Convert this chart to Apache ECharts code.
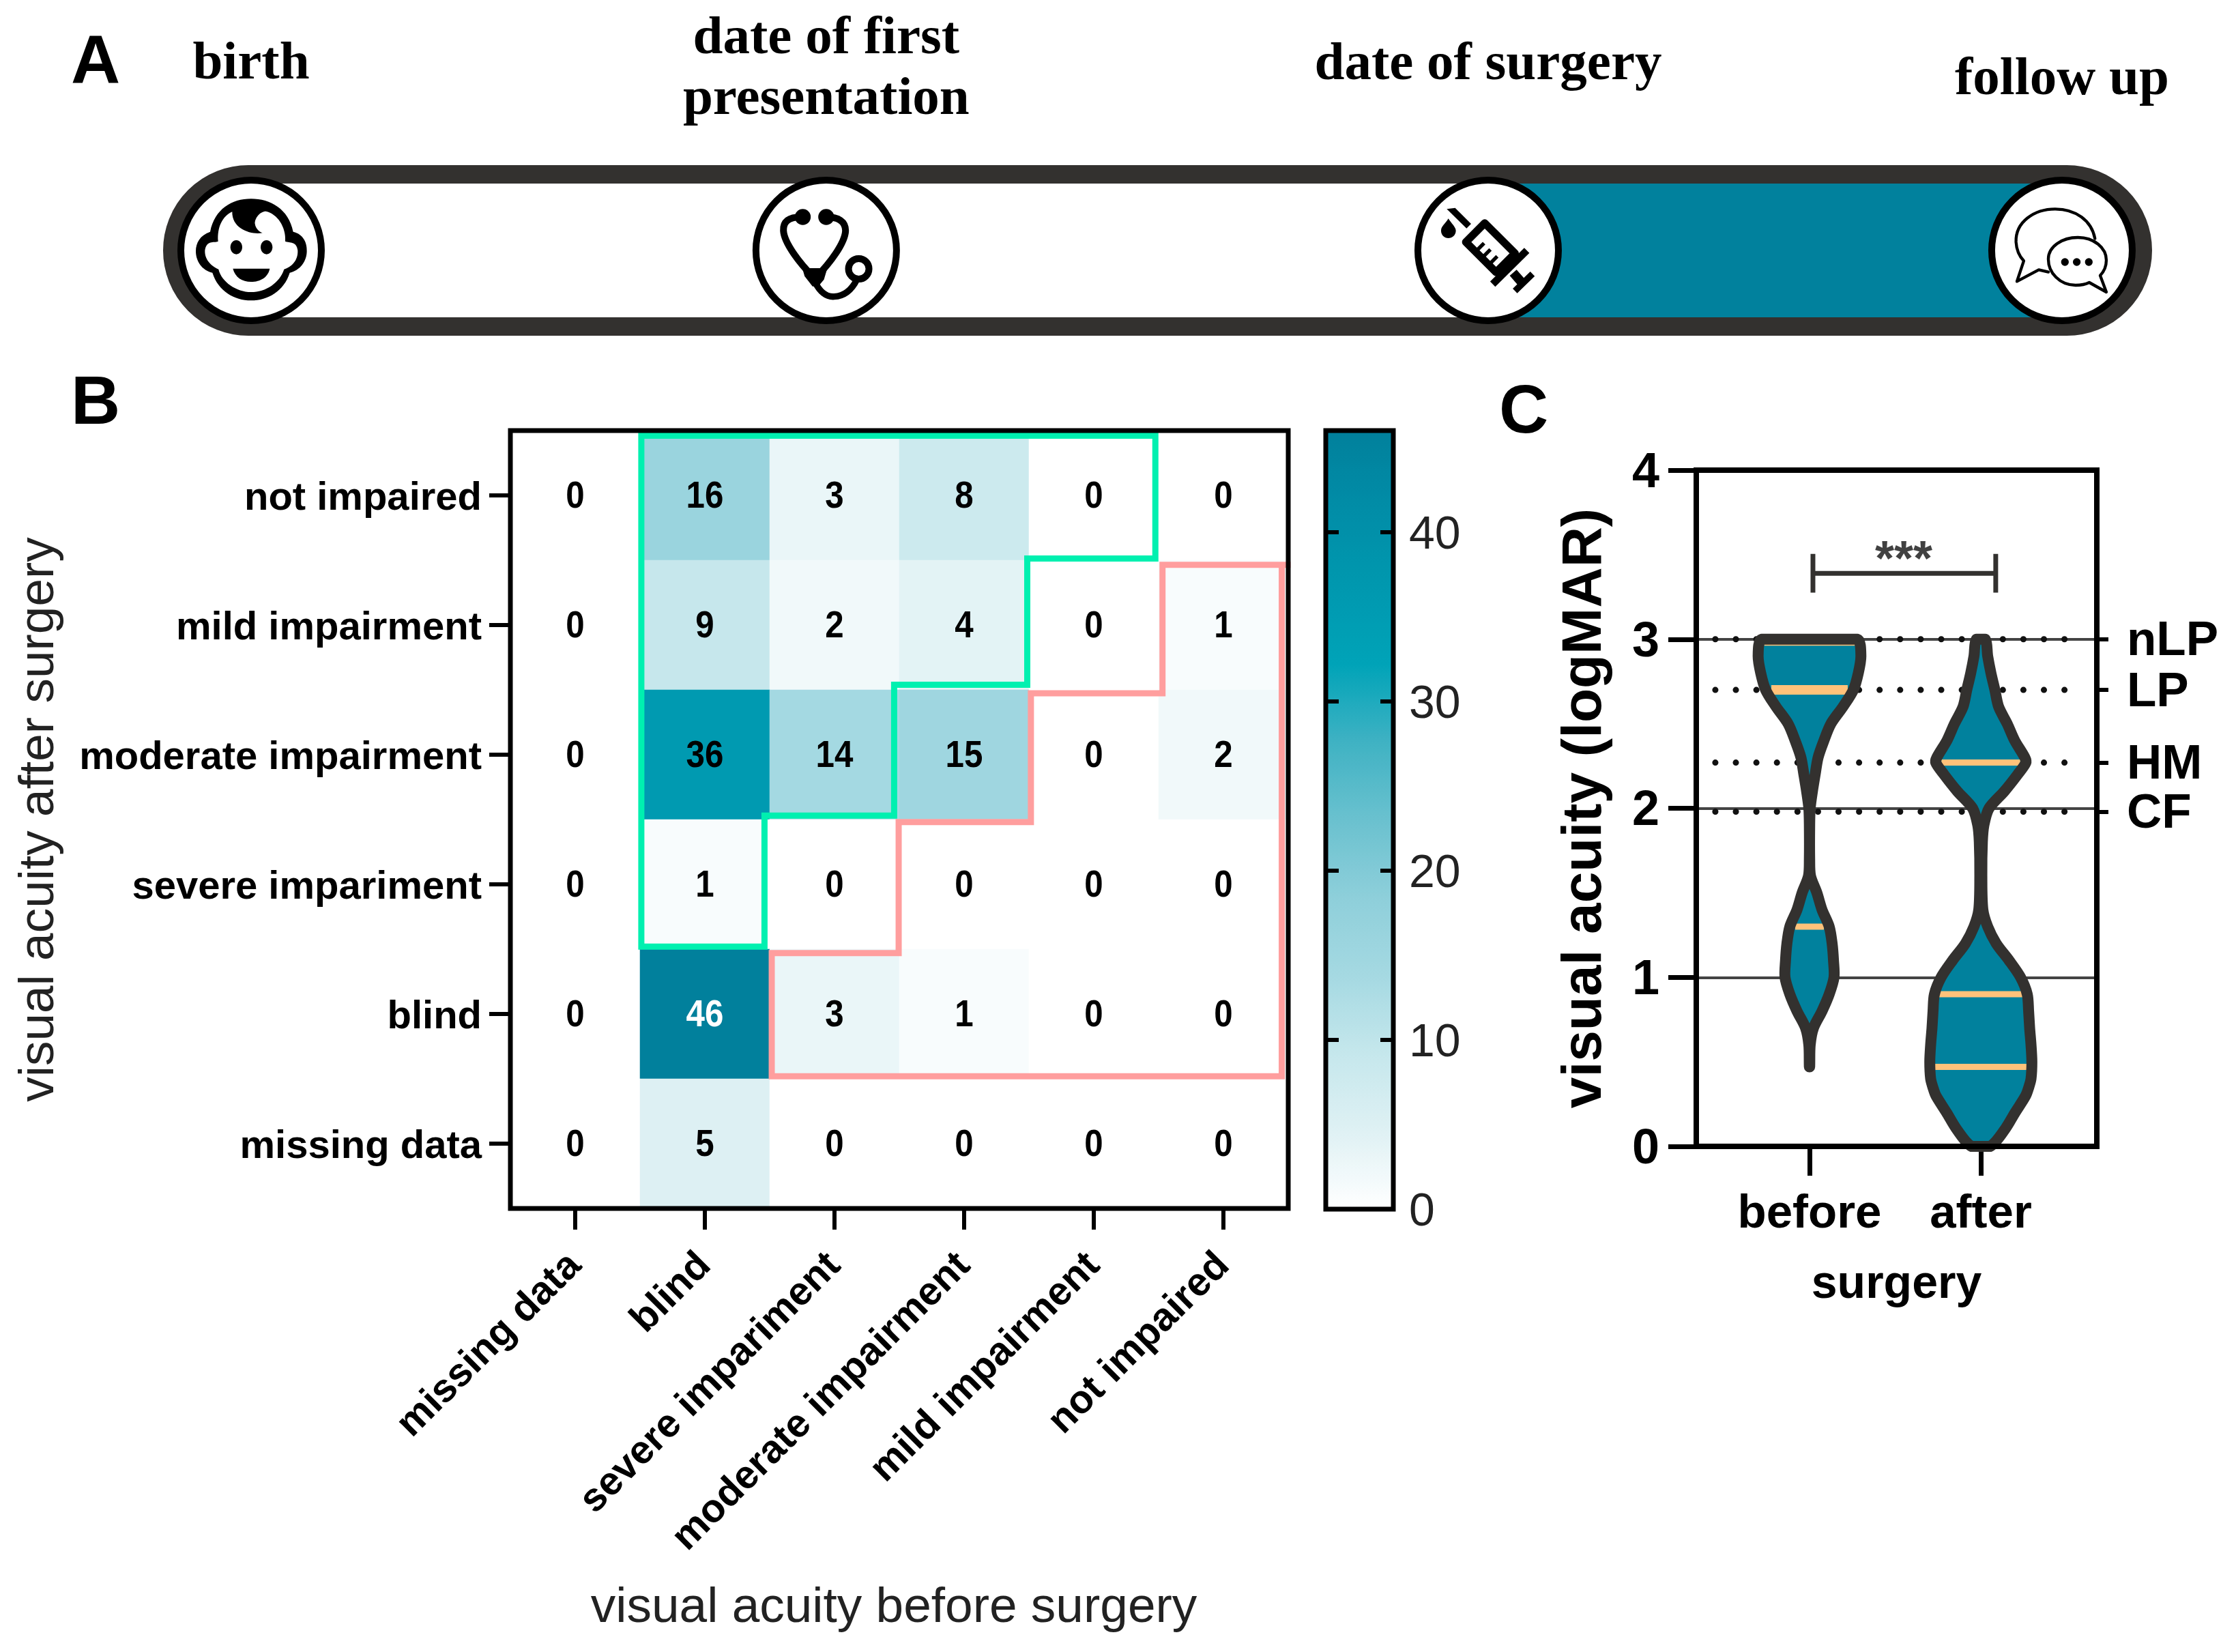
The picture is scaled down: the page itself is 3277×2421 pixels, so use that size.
<!DOCTYPE html>
<html>
<head>
<meta charset="utf-8">
<style>html,body{margin:0;padding:0;background:#fff}#main{width:3277px;height:2421px}</style>
<script src="https://cdn.jsdelivr.net/npm/echarts@6/dist/echarts.min.js"></script>
</head>
<body>
<div id="main"></div>
<script>
// panel A
var eventNames = ['birth', 'date of first\npresentation', 'date of surgery', 'follow up'];
var eventPositions = [4.425, 33.34, 66.62, 95.47];
var eventLabelMiddles = [95, 102, 96, 118];

// panel B
var xCategories = ['missing data', 'blind', 'severe impariment', 'moderate impairment', 'mild impairment', 'not impaired'];
var yCategories = ['not impaired', 'mild impairment', 'moderate impairment', 'severe impariment', 'blind', 'missing data'];
var row0 = [0, 16, 3, 8, 0, 0];
var row1 = [0, 9, 2, 4, 0, 1];
var row2 = [0, 36, 14, 15, 0, 2];
var row3 = [0, 1, 0, 0, 0, 0];
var row4 = [0, 46, 3, 1, 0, 0];
var row5 = [0, 5, 0, 0, 0, 0];
var counts = [row0, row1, row2, row3, row4, row5];
var colorStops = ['#ffffff', '#dff1f4', '#c5e7ec', '#a5d9e2', '#8ecfda', '#6ac1cf', '#3fb2c3', '#00a3b8', '#0098af', '#018da7', '#01809c'];
var greenOutline = [[1.01, 0.04], [4.975, 0.04], [4.975, 0.987], [3.987, 0.987], [3.987, 1.96], [2.96, 1.96], [2.96, 2.97], [1.96, 2.97], [1.96, 3.98], [1.01, 3.98], [1.01, 0.04]];
var pinkOutline = [[5.995, 1.035], [5.03, 1.035], [5.03, 2.026], [4.015, 2.026], [4.015, 3.02], [2.995, 3.02], [2.995, 4.03], [2.016, 4.03], [2.016, 4.98], [5.95, 4.98], [5.95, 1.035]];

// panel C
var groups = ['before', 'after'];
var beforeLevels = [3, 2.9, 2.8, 2.7, 2.6, 2.5, 2.4, 2.3, 2.2, 2.1, 2, 1.9, 1.7, 1.6, 1.5, 1.4, 1.3, 1.2, 1.1, 1, 0.9, 0.8, 0.7, 0.6, 0.47];
var beforeWidths = [0.28, 0.3, 0.285, 0.256, 0.195, 0.125, 0.084, 0.05, 0.033, 0.017, 0.004, 0.001, 0.001, 0.006, 0.043, 0.073, 0.115, 0.132, 0.14, 0.143, 0.115, 0.073, 0.023, 0.004, 0.001];
var afterLevels = [3, 2.9, 2.8, 2.7, 2.6, 2.5, 2.4, 2.3, 2.27, 2.2, 2.1, 2, 1.9, 1.8, 1.6, 1.4, 1.3, 1.2, 1.1, 1, 0.9, 0.8, 0.7, 0.6, 0.5, 0.4, 0.35, 0.3, 0.2, 0.1, 0];
var afterWidths = [0.026, 0.04, 0.059, 0.082, 0.104, 0.154, 0.198, 0.257, 0.263, 0.215, 0.137, 0.048, 0.018, 0.009, 0.006, 0.012, 0.04, 0.09, 0.165, 0.232, 0.271, 0.279, 0.285, 0.293, 0.298, 0.293, 0.28, 0.262, 0.2, 0.14, 0.054];
var beforeQuartiles = [1.3, 2.7, 2.98];
var beforeQuartileWidths = [0.084, 0.223, 0.265];
var afterQuartiles = [0.47, 0.9, 2.27];
var afterQuartileWidths = [0.27, 0.254, 0.23];
var visionLevels = [1.98, 2.27, 2.7, 3];
var visionNames = ['CF', 'HM', 'LP', 'nLP'];
var dotSpan = [-0.55, 1.59];
var bracketX = [0.02, 1.087];
var bracketY = 3.39;
var bracketCap = 0.115;

var TEAL = '#01819d';
var DARK = '#33312f';
var SANS = '"Liberation Sans", Arial, sans-serif';
var SERIF = '"Liberation Serif", "Times New Roman", serif';

var heat = [];
counts.forEach(function (row, r) {
    row.forEach(function (v, c) {
        heat.push([c, r, v]);
    });
});

function outlineSeries(points, color) {
    return {
        type: 'line', xAxisIndex: 1, yAxisIndex: 1, data: points, symbol: 'none', silent: true, z: 5,
        lineStyle: { color: color, width: 9, join: 'miter', cap: 'square' }
    };
}

function renderViolin(params, api) {
    var k = api.value(0);
    var levels = k === 0 ? beforeLevels : afterLevels;
    var widths = k === 0 ? beforeWidths : afterWidths;
    var quarts = k === 0 ? beforeQuartiles : afterQuartiles;
    var qw = k === 0 ? beforeQuartileWidths : afterQuartileWidths;
    var pts = [];
    levels.forEach(function (v, i) { pts.push(api.coord([k - widths[i], v])); });
    for (var i = levels.length - 1; i >= 0; i--) pts.push(api.coord([k + widths[i], levels[i]]));
    var shape = { points: pts, smooth: 0.3, smoothConstraint: [pts[0], pts[0]] };
    var kids = [{ type: 'polygon', shape: shape, style: { fill: TEAL, stroke: null } }];
    quarts.forEach(function (v, i) {
        var a = api.coord([k - qw[i], v]);
        var b = api.coord([k + qw[i], v]);
        kids.push({
            type: 'line', shape: { x1: a[0], y1: a[1], x2: b[0], y2: b[1] },
            style: { stroke: '#ffc27a', lineWidth: v === 2.7 ? 14 : 9 }
        });
    });
    kids.push({ type: 'polygon', shape: shape, style: { fill: null, stroke: DARK, lineWidth: 16, lineJoin: 'round' } });
    return { type: 'group', children: kids };
}

// icon shapes below are in a 720 box (3x), the renderer scales them down
function iconPath(d, style) {
    return { type: 'path', shape: { pathData: 'M0 0M720 720' + d, x: 0, y: 0, width: 720, height: 720, layout: 'cover' }, style: style };
}
var INK = { fill: '#000' };

function babyIcon() {
    return [
        iconPath('M355 125C440 125 520 170 540 270C585 280 602 320 600 355C600 400 570 440 525 450C500 530 430 572 355 572C280 572 210 530 185 450C140 440 112 400 112 355C112 320 130 285 175 270C195 170 270 125 355 125Z', INK),
        iconPath('M272 182C230 200 205 250 210 312C190 320 160 305 152 352C150 400 190 425 212 435C225 490 290 535 355 535C420 535 480 495 500 435C530 425 562 400 560 352C555 310 525 320 505 312C510 250 470 190 420 180C395 180 370 210 372 235C375 255 390 270 405 275C360 285 270 260 272 182Z', { fill: '#fff' }),
        { type: 'ellipse', shape: { cx: 290, cy: 338, rx: 26, ry: 31 }, style: INK },
        { type: 'ellipse', shape: { cx: 423, cy: 338, rx: 26, ry: 31 }, style: INK },
        iconPath('M275 432L437 432C430 470 395 490 355 490C315 490 285 470 275 432Z', INK)
    ];
}

function stethoscopeIcon() {
    var tube = { fill: null, stroke: '#000', lineWidth: 30, lineCap: 'round' };
    return [
        iconPath('M245 205C190 205 165 225 167 265C170 320 240 410 300 470', tube),
        iconPath('M355 205C410 205 440 225 440 265C438 320 370 410 310 470', tube),
        iconPath('M305 490C330 540 360 557 390 555C440 553 470 520 490 480', { fill: null, stroke: '#000', lineWidth: 28, lineCap: 'round' }),
        { type: 'polygon', shape: { points: [[250, 430], [300, 430], [360, 430], [345, 480], [320, 510], [295, 510], [260, 465]] }, style: INK },
        { type: 'circle', shape: { cx: 252, cy: 205, r: 35 }, style: INK },
        { type: 'circle', shape: { cx: 355, cy: 205, r: 35 }, style: INK },
        { type: 'circle', shape: { cx: 498, cy: 433, r: 45 }, style: { fill: '#fff', stroke: '#000', lineWidth: 30 } }
    ];
}

function syringeIcon() {
    function bar(x1, y1, x2, y2, w) {
        return { type: 'line', shape: { x1: x1, y1: y1, x2: x2, y2: y2 }, style: { stroke: '#000', lineWidth: w } };
    }
    return [
        iconPath('M185 212C200 235 218 250 218 265C218 285 202 298 185 298C168 298 153 285 153 265C153 245 172 235 185 212Z', INK),
        { type: 'polygon', shape: { points: [[178, 170], [215, 165], [285, 235], [265, 255]] }, style: INK },
        { type: 'polygon', shape: { points: [[345, 232], [478, 365], [395, 448], [262, 315]] }, style: { fill: '#fff', stroke: '#000', lineWidth: 34, lineJoin: 'round' } },
        bar(530, 352, 380, 500, 32),
        bar(342, 320, 310, 352, 16),
        bar(370, 348, 338, 380, 16),
        bar(400, 378, 368, 410, 16),
        bar(470, 450, 505, 490, 40),
        bar(555, 455, 478, 530, 28)
    ];
}

function chatIcon() {
    var line = { fill: null, stroke: '#000', lineWidth: 13, lineJoin: 'round', lineCap: 'round' };
    return [
        iconPath('M505 300C490 220 420 170 330 170C240 170 155 225 158 315C160 350 170 375 192 398L162 488L258 437L300 447', line),
        iconPath('M300 390C300 335 360 295 430 295C500 295 555 340 555 395C555 425 545 445 528 462L555 535L480 493C460 503 440 505 420 505C350 505 300 450 300 390Z', line),
        { type: 'circle', shape: { cx: 373, cy: 403, r: 17 }, style: INK },
        { type: 'circle', shape: { cx: 425, cy: 403, r: 17 }, style: INK },
        { type: 'circle', shape: { cx: 478, cy: 403, r: 17 }, style: INK }
    ];
}

var iconMakers = [babyIcon, stethoscopeIcon, syringeIcon, chatIcon];
var iconCentres = [[355, 352], [355, 352], [360, 352], [360, 352]];

function renderTube(params, api) {
    var a = api.coord([0, 1]);
    var b = api.coord([100, 0]);
    var s = api.coord([eventPositions[2], 1]);
    var e = api.coord([eventPositions[3], 0]);
    var wall = 27;
    return {
        type: 'group',
        children: [
            { type: 'rect', shape: { x: s[0], y: a[1], width: e[0] - s[0], height: b[1] - a[1] }, style: { fill: TEAL } },
            {
                type: 'rect',
                shape: { x: a[0] + wall / 2, y: a[1] + wall / 2, width: b[0] - a[0] - wall, height: b[1] - a[1] - wall, r: (b[1] - a[1] - wall) / 2 },
                style: { fill: null, stroke: DARK, lineWidth: wall }
            }
        ]
    };
}

function renderEvent(params, api) {
    var i = params.dataIndex;
    var p = api.coord([api.value(0), 0.5]);
    return {
        type: 'group',
        children: [
            {
                type: 'text', x: p[0], y: eventLabelMiddles[i],
                style: { text: eventNames[i], font: 'bold 79px ' + SERIF, fill: '#000', align: 'center', verticalAlign: 'middle', lineHeight: 89 }
            },
            {
                type: 'group', x: p[0], y: p[1],
                children: [
                    { type: 'circle', shape: { cx: 0, cy: 0, r: 103 }, style: { fill: '#fff', stroke: '#000', lineWidth: 10 } },
                    {
                        type: 'group', scaleX: 1 / 3, scaleY: 1 / 3,
                        children: [{ type: 'group', x: -iconCentres[i][0], y: -iconCentres[i][1], children: iconMakers[i]() }]
                    }
                ]
            }
        ]
    };
}

function renderCellText(params, api) {
    var v = api.value(2);
    var p = api.coord([api.value(0), api.value(1)]);
    return {
        type: 'text', x: p[0], y: p[1] + 3, scaleX: 0.88,
        style: { text: String(v), font: 'bold 56px ' + SANS, fill: v > 40 ? '#fff' : '#000', align: 'center', verticalAlign: 'middle' }
    };
}

function frame(x, y, w, h, lw) {
    return { type: 'rect', z: 50, silent: true, shape: { x: x, y: y, width: w, height: h }, style: { fill: null, stroke: '#000', lineWidth: lw } };
}

function panelLetter(t, x, y) {
    return { type: 'text', x: x, y: y, style: { text: t, font: 'bold 100px ' + SANS, fill: '#000' } };
}

var myChart = echarts.init(document.getElementById('main'));
var option = {
    animation: false,
    backgroundColor: '#fff',
    textStyle: { fontFamily: SANS },
    grid: [
        { left: 748, top: 631, width: 1140, height: 1140 },
        { left: 748, top: 631, width: 1140, height: 1140 },
        { left: 1943, top: 631, width: 99, height: 1141 },
        { left: 2486, top: 689, width: 587, height: 991 },
        { left: 239, top: 242, width: 2915, height: 250 }
    ],
    xAxis: [
        {
            type: 'category', gridIndex: 0, data: xCategories, position: 'bottom',
            axisLine: { show: false }, splitLine: { show: false }, splitArea: { show: false },
            axisTick: { show: true, alignWithLabel: true, length: 31, lineStyle: { color: '#000', width: 6 } },
            axisLabel: { rotate: 45, interval: 0, margin: 75, color: '#000', fontWeight: 'bold', fontSize: 58, fontFamily: SANS },
            name: 'visual acuity before surgery', nameLocation: 'middle', nameGap: 549,
            nameTextStyle: { fontSize: 73, color: '#222', fontFamily: SANS, padding: [0, 16, 0, 0] }
        },
        { type: 'value', gridIndex: 1, min: 0, max: 6, show: false },
        { type: 'value', gridIndex: 2, min: 0, max: 1, show: false },
        {
            type: 'value', gridIndex: 3, min: -0.661, max: 1.677,
            axisLine: { show: false, onZero: false }, splitLine: { show: false },
            axisTick: { show: true, customValues: [0, 1], length: 43, lineStyle: { color: '#000', width: 7 } },
            axisLabel: {
                customValues: [0, 1], margin: 65, color: '#000', fontWeight: 'bold', fontSize: 69, fontFamily: SANS,
                formatter: function (v) { return groups[v]; }
            },
            name: 'surgery', nameLocation: 'middle', nameGap: 169,
            nameTextStyle: { fontSize: 68, fontWeight: 'bold', color: '#000', fontFamily: SANS }
        },
        { type: 'value', gridIndex: 4, min: 0, max: 100, show: false }
    ],
    yAxis: [
        {
            type: 'category', gridIndex: 0, data: yCategories, inverse: true,
            axisLine: { show: false }, splitLine: { show: false }, splitArea: { show: false },
            axisTick: { show: true, alignWithLabel: true, length: 31, lineStyle: { color: '#000', width: 6 } },
            axisLabel: { margin: 42, color: '#000', fontWeight: 'bold', fontSize: 58, fontFamily: SANS, verticalAlign: 'top', lineHeight: 10 },
            name: 'visual acuity after surgery', nameLocation: 'middle', nameGap: 654, nameRotate: 90,
            nameTextStyle: { fontSize: 73, color: '#222', fontFamily: SANS }
        },
        { type: 'value', gridIndex: 1, min: 0, max: 6, inverse: true, show: false },
        {
            type: 'value', gridIndex: 2, min: 0, max: 46, position: 'left', z: 10,
            axisLine: { show: false }, splitLine: { show: false }, axisLabel: { show: false },
            axisTick: { show: true, inside: true, length: 19, customValues: [10, 20, 30, 40], lineStyle: { color: '#000', width: 6 } }
        },
        {
            type: 'value', gridIndex: 2, min: 0, max: 46, position: 'right', z: 10,
            axisLine: { show: false }, splitLine: { show: false },
            axisTick: { show: true, inside: true, length: 19, customValues: [10, 20, 30, 40], lineStyle: { color: '#000', width: 6 } },
            axisLabel: { customValues: [0, 10, 20, 30, 40], margin: 23, color: '#222', fontSize: 68, fontFamily: SANS, verticalAlign: 'top', lineHeight: 10 }
        },
        {
            type: 'value', gridIndex: 3, min: 0, max: 4, interval: 1, position: 'left',
            axisLine: { show: false, onZero: false },
            splitLine: { show: true, lineStyle: { color: '#444', width: 4 } },
            axisTick: { show: true, length: 41, lineStyle: { color: '#000', width: 7 } },
            axisLabel: { margin: 54, color: '#000', fontWeight: 'bold', fontSize: 72, fontFamily: SANS, verticalAlign: 'top', lineHeight: 10 },
            name: 'visual acuity (logMAR)', nameLocation: 'middle', nameGap: 122, nameRotate: 90,
            nameTextStyle: { fontSize: 82, fontWeight: 'bold', color: '#000', fontFamily: SANS }
        },
        {
            type: 'value', gridIndex: 3, min: 0, max: 4, position: 'right',
            axisLine: { show: false, onZero: false }, splitLine: { show: false },
            axisTick: { show: true, customValues: visionLevels, length: 17, lineStyle: { color: '#000', width: 6 } },
            axisLabel: {
                customValues: visionLevels, margin: 44, color: '#000', fontWeight: 'bold', fontSize: 71, fontFamily: SANS, verticalAlign: 'top', lineHeight: 8,
                formatter: function (v) { return visionNames[visionLevels.indexOf(v)]; }
            }
        },
        { type: 'value', gridIndex: 4, min: 0, max: 1, show: false }
    ],
    visualMap: {
        type: 'continuous', seriesIndex: 0, min: 0, max: 46, calculable: false, orient: 'vertical',
        left: 1943, top: 631, itemWidth: 99, itemHeight: 1141, padding: 0, text: null, z: 4, showLabel: false,
        inRange: { color: colorStops }
    },
    series: [
        { type: 'heatmap', xAxisIndex: 0, yAxisIndex: 0, data: heat, silent: true, emphasis: { disabled: true } },
        { type: 'custom', xAxisIndex: 0, yAxisIndex: 0, data: heat, silent: true, z: 3, renderItem: renderCellText, encode: { x: 0, y: 1 } },
        outlineSeries(greenOutline, '#00f0b0'),
        outlineSeries(pinkOutline, '#ff9e9e')
    ].concat(visionLevels.map(function (v) {
        return {
            type: 'line', xAxisIndex: 3, yAxisIndex: 4, symbol: 'none', silent: true, z: 2,
            data: [[dotSpan[0], v], [dotSpan[1], v]],
            lineStyle: { color: '#111', width: 9, cap: 'round', type: [0.1, 30] }
        };
    })).concat([
        {
            type: 'custom', xAxisIndex: 3, yAxisIndex: 4, z: 4, silent: true, renderItem: renderViolin,
            data: [[0], [1]], encode: { x: 0 }
        },
        {
            type: 'line', xAxisIndex: 3, yAxisIndex: 4, symbol: 'none', silent: true, z: 4,
            data: [[bracketX[0], bracketY - bracketCap], [bracketX[0], bracketY + bracketCap], [bracketX[0], bracketY], [bracketX[1], bracketY], [bracketX[1], bracketY + bracketCap], [bracketX[1], bracketY - bracketCap]],
            lineStyle: { color: DARK, width: 7, join: 'miter' }
        },
        {
            type: 'scatter', xAxisIndex: 3, yAxisIndex: 4, symbolSize: 0, silent: true, z: 4,
            data: [[0.55, 3.46]],
            label: { show: true, position: 'inside', formatter: '***', fontSize: 72, fontWeight: 'bold', color: '#111', fontFamily: SANS }
        },
        {
            type: 'custom', xAxisIndex: 4, yAxisIndex: 6, z: 1, silent: true, renderItem: renderTube,
            data: [[0]], encode: { x: 0 }
        },
        {
            type: 'custom', xAxisIndex: 4, yAxisIndex: 6, z: 2, silent: true, renderItem: renderEvent,
            data: eventPositions.map(function (p) { return [p]; }), encode: { x: 0 }, clip: false
        }
    ]),
    graphic: [
        frame(748, 631, 1140, 1140, 7),
        frame(1943, 631, 99, 1141, 7),
        frame(2486, 689, 587, 991, 8),
        panelLetter('A', 104, 44),
        panelLetter('B', 104, 543),
        panelLetter('C', 2197, 556)
    ]
};
myChart.setOption(option);
</script>
</body>
</html>
